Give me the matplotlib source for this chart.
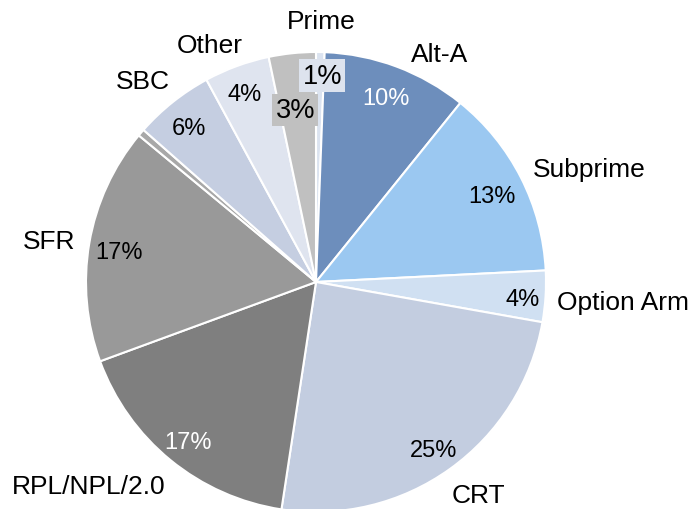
import matplotlib
matplotlib.use("Agg")
import matplotlib.pyplot as plt
import numpy as np

plt.rcParams['font.family'] = ['Liberation Sans', 'DejaVu Sans']

categories = ["Prime", "Alt-A", "Subprime", "Option Arm", "CRT", "RPL/NPL/2.0",
              "SFR", "", "SBC", "Other", ""]
values = [0.6, 10.2, 13.4, 3.6, 24.6, 17.0, 16.6, 0.5, 5.6, 4.6, 3.3]
pct_labels = ["1%", "10%", "13%", "4%", "25%", "17%", "17%", "", "6%", "4%", "3%"]
colors = ["#dbe3f0", "#6d8ebc", "#9bc8f1", "#d0e0f2", "#c3cde0", "#7f7f7f",
          "#999999", "#a8a8a8", "#c5cee1", "#dfe4ef", "#c0c0c0"]
pct_colors = ["black", "white", "black", "black", "black", "white",
              "black", "black", "black", "black", "black"]

W, H = 691, 510
cx, cy, R = 316, 283, 230
px = 1.0 / R
fig = plt.figure(figsize=(W/100, H/100), dpi=100)
ax = fig.add_axes([0, 0, 1, 1])

wedges, _ = ax.pie(values, colors=colors, startangle=90, counterclock=False,
                   radius=1, wedgeprops=dict(edgecolor='white', linewidth=1.5))
ax.set_xlim(-cx/R, (W-cx)/R)
ax.set_ylim((cy-H)/R, cy/R)
ax.set_aspect('auto')
ax.axis('off')

# percent label placement: (distance, x offset px, y offset px, fontsize)
pct_pos = [(0.91, 0, -3, 19.5), (0.87, 0, -3, 17), (0.86, 0, -4, 17), (0.9, 0, -4, 17),
           (0.88, 0, -4, 17), (0.88, 0, -3, 17), (0.87, 0, -4, 17), (0.87, 0, 0, 17),
           (0.87, -2, -3, 17), (0.88, -2, -2, 17), (0.77, 0, -4, 19.5)]
# name label placement: (distance, x offset px, y offset px)
lab_pos = [(1.135, 0, 0), (1.06, 9, 0), (1.082, -5, 0), (1.05, 0, -5),
           (1.14, -17, 0), (1.146, 16, 0), (1.06, 0, 0), (1.07, 0, 0),
           (1.116, 14, 0), (1.10, 14, 0), (1.07, 0, 0)]
boxes = {0: "#dde3ee", 10: "#c0c0c0"}
for i, w in enumerate(wedges):
    mid = np.deg2rad((w.theta1 + w.theta2) / 2)
    c, s = np.cos(mid), np.sin(mid)
    if pct_labels[i]:
        d, ox, oy, fs = pct_pos[i]
        x, y = d*c + ox*px, d*s + oy*px
        if i == 0:
            x += 0.01
        if i == 10:
            x -= 0.01
        kw = {}
        if i in boxes:
            kw['bbox'] = dict(boxstyle='square,pad=0.12', fc=boxes[i], ec='none')
        ax.text(x, y, pct_labels[i], ha='center', va='center', fontsize=fs,
                color=pct_colors[i], **kw)
    if categories[i]:
        d, ox, oy = lab_pos[i]
        x, y = d*c + ox*px, d*s + oy*px
        if i == 0:
            ha = 'center'
        else:
            ha = 'left' if c > 0 else 'right'
        ax.text(x, y, categories[i], ha=ha, va='center', fontsize=19, color='black')

fig.savefig("out.png", dpi=100)
